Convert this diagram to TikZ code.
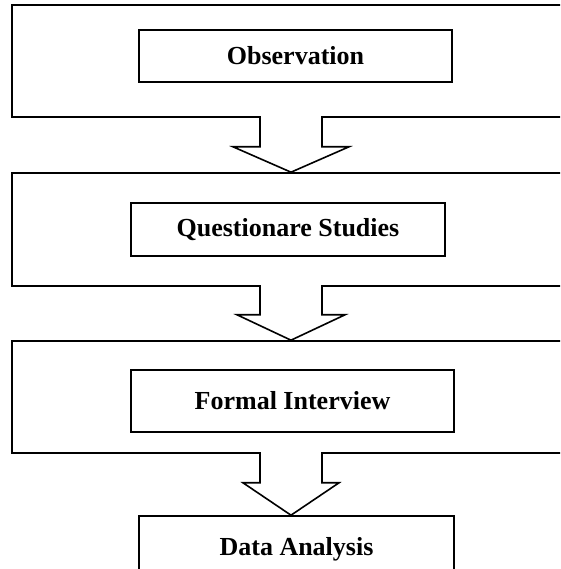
\documentclass[tikz,border=0pt]{standalone}
\usepackage{fontspec}
\setmainfont{Liberation Serif}
\usetikzlibrary{calc}
\begin{document}
\begin{tikzpicture}[x=1pt,y=1pt,
  frame/.style={draw=black,line width=1.6pt,rectangle,inner sep=0pt,minimum width=558pt},
  stepbox/.style={draw=black,line width=1.6pt,rectangle,inner sep=0pt,
     font=\fontsize{26}{30}\selectfont\bfseries},
  arrowline/.style={draw=black,line width=1.6pt,line join=miter}]
\useasboundingbox (0,0) rectangle (560,569);
\clip (0,0) rectangle (560,569);
\fill[white] (0,0) rectangle (560,569);
% outer frames
\node[frame,minimum height=112pt] (o1) at (291,508) {};
\node[frame,minimum height=113pt] (o2) at (291,339.5) {};
\node[frame,minimum height=112pt] (o3) at (291,172) {};
% inner boxes
\node[stepbox,minimum width=313pt,minimum height=52pt] (s1) at (295.5,513) {Observation};
\node[stepbox,minimum width=314pt,minimum height=53pt] (s2) at (288,339.5) {Questionare Studies};
\node[stepbox,minimum width=323pt,minimum height=62pt] (s3) at (292.5,168) {Formal Interview};
\node[stepbox,minimum width=315pt,minimum height=66pt] (d) at (296.5,20) {Data Analysis};
% block arrows
\foreach \a/\b/\h/\s in {o1/o2/58/29, o2/o3/54/28, o3/d/48/29} {
  \fill[white] ($(\a.south)+(-30,-1)$) rectangle ($(\a.south)+(30,1.5)$);
  \draw[arrowline] ($(\a.south)+(-31,0.8)$) -- ($(\a.south)+(-31,-\s)$)
     -- ($(\a.south)+(-\h,-\s)$) -- (\a.south |- \b.north)
     -- ($(\a.south)+(\h,-\s)$) -- ($(\a.south)+(31,-\s)$) -- ($(\a.south)+(31,0.8)$);
}
\end{tikzpicture}
\end{document}
